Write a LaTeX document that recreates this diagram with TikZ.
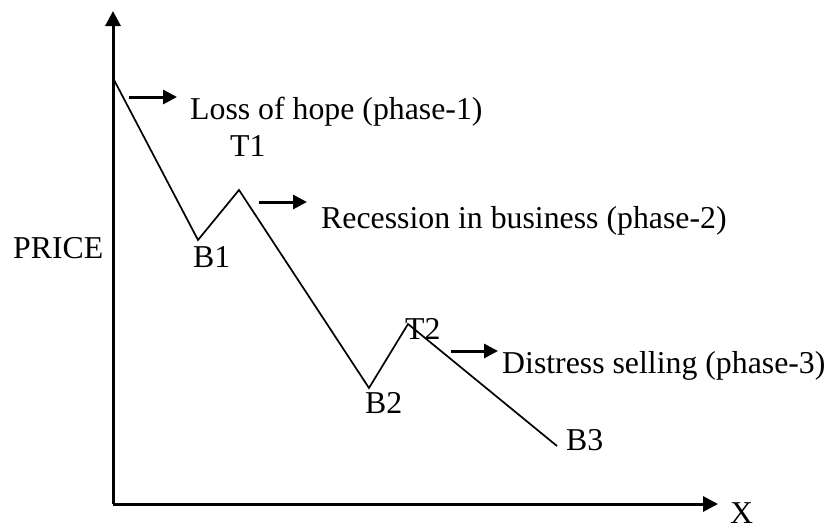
\documentclass[tikz,border=0pt]{standalone}
\usepackage{fontspec}
\setmainfont{Liberation Serif}
\usetikzlibrary{arrows.meta}
\begin{document}
\begin{tikzpicture}[x=1pt,y=-1pt,
  axis/.style={line width=3pt,-{Triangle[length=15pt,width=15pt]}},
  curve/.style={line width=1.7pt,line join=miter},
  phasearrow/.style={line width=3pt,-{Triangle[length=14pt,width=14pt]}},
  lbl/.style={anchor=base west,inner sep=0pt,font=\fontsize{31.8}{38}\selectfont}]
\useasboundingbox (0,0) rectangle (832,525);
% axes
\coordinate (O) at (113,504);
\coordinate (Ytip) at (113,11);
\coordinate (Xtip) at (718,504);
\draw[axis] (O) -- (Ytip);
\draw[axis] (O) -- (Xtip);
% price curve points
\coordinate (S) at (113,78);
\coordinate (B1) at (198,240);
\coordinate (T1) at (239,190);
\coordinate (B2) at (369,388);
\coordinate (T2) at (408,324);
\coordinate (B3) at (557,446);
\draw[curve] (S) -- (B1) -- (T1) -- (B2) -- (T2) -- (B3);
% phase arrows
\coordinate (a1s) at (129,97);  \coordinate (a1e) at (177,97);
\coordinate (a2s) at (259,202); \coordinate (a2e) at (307,202);
\coordinate (a3s) at (451,351); \coordinate (a3e) at (498,351);
\draw[phasearrow] (a1s) -- (a1e);
\draw[phasearrow] (a2s) -- (a2e);
\draw[phasearrow] (a3s) -- (a3e);
% labels
\node[lbl] (l1) at (190,119) {Loss of hope (phase-1)};
\node[lbl] (t1) at (230,156) {T1};
\node[lbl] (l2) at (321,228) {Recession in business (phase-2)};
\node[lbl] (price) at (13,258) {PRICE};
\node[lbl] (b1) at (193,267) {B1};
\node[lbl] (t2) at (405,339) {T2};
\node[lbl] (l3) at (502,373) {Distress selling (phase-3)};
\node[lbl] (b2) at (365,413) {B2};
\node[lbl] (b3) at (566,450) {B3};
\node[lbl] (xl) at (730,523) {X};
\end{tikzpicture}
\end{document}
